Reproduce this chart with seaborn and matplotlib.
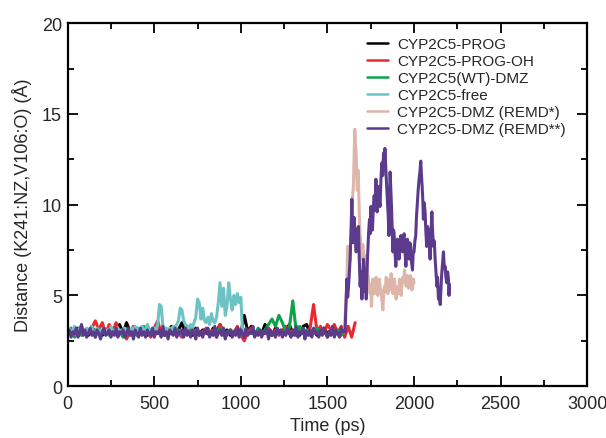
import numpy as np
import pandas as pd
import matplotlib
matplotlib.use('Agg')
import matplotlib.pyplot as plt
import seaborn as sns
from matplotlib.ticker import MultipleLocator

# series names and colours
names = ['CYP2C5-PROG', 'CYP2C5-PROG-OH', 'CYP2C5(WT)-DMZ', 'CYP2C5-free',
         'CYP2C5-DMZ (REMD*)', 'CYP2C5-DMZ (REMD**)']
colors = ['#000000', '#e8292e', '#0fa348', '#6cc3c6', '#ddb5a9', '#5c3b8d']

# plain MD runs, one sample every 20 ps
prog = [2.9, 3.1, 2.8, 3.2, 2.9, 3.0, 2.8, 3.3, 2.9, 3.1, 2.8, 3.0, 3.2, 2.9, 3.1, 3.4,
        2.9, 3.5, 3.0, 2.8, 3.2, 2.9, 3.1, 2.8, 3.0, 3.2, 2.9, 3.1, 2.8, 3.0, 3.3, 2.9,
        3.1, 3.5, 2.9, 3.0, 2.8, 3.2, 2.9, 3.1, 3.0, 2.8, 3.2, 3.0, 3.4, 2.9, 3.1, 2.8,
        3.0, 3.2, 2.9, 3.9, 3.0, 3.3, 2.8, 3.1, 2.9, 3.4, 3.0, 2.8, 3.2, 2.9, 3.1, 3.0,
        3.4, 2.9, 3.1, 2.8, 3.3, 3.4, 2.9, 3.1, 2.8, 3.0, 3.2, 2.9, 3.1, 2.8, 3.0, 3.2, 2.9]

prog_oh = [3.0, 3.2, 2.8, 3.1, 3.3, 2.9, 3.0, 3.2, 3.6, 3.1, 3.5, 2.9, 3.4, 3.0, 3.5, 2.9,
           3.1, 2.6, 3.0, 3.3, 2.8, 3.1, 2.9, 3.0, 2.7, 3.2, 3.6, 2.9, 3.0, 2.8, 3.1, 3.3,
           2.9, 2.7, 3.0, 3.2, 2.9, 3.1, 2.8, 3.0, 3.2, 2.9, 3.1, 2.7, 3.4, 3.0, 2.8, 3.1,
           2.9, 3.3, 2.8, 2.5, 3.0, 3.2, 2.9, 3.1, 2.8, 3.0, 3.2, 2.9, 3.1, 2.8, 3.0, 3.3,
           2.9, 3.1, 2.8, 3.2, 3.0, 2.9, 3.2, 4.5, 3.0, 3.3, 2.9, 3.4, 3.1, 3.4, 2.9, 3.3,
           2.7, 3.3, 2.7, 3.5]

wt_dmz = [2.9, 3.0, 2.7, 3.1, 2.8, 3.0, 2.9, 3.1, 2.7, 3.2, 2.9, 3.0, 2.8, 3.1, 2.9, 3.0,
          2.7, 3.1, 2.9, 3.2, 2.8, 3.0, 3.3, 2.9, 3.1, 2.8, 3.0, 2.9, 3.2, 2.8, 3.0, 2.9,
          3.1, 2.8, 3.0, 2.9, 3.1, 2.8, 3.0, 2.9, 3.1, 2.8, 3.0, 2.9, 3.2, 2.8, 3.0, 3.1,
          2.9, 3.0, 2.8, 3.1, 2.9, 3.0, 2.8, 3.2, 2.9, 3.1, 3.4, 3.7, 3.3, 3.9, 3.5, 3.0,
          3.2, 4.7, 3.0, 3.3, 2.9, 3.1, 2.8, 3.0, 3.2, 2.9, 3.1, 2.7, 3.0, 2.9, 3.1, 2.8, 3.0]

# free enzyme, one sample every 10 ps
free = [3.0, 3.2, 2.9, 3.1, 3.3, 3.0, 2.9, 3.2, 3.0, 3.1,
        2.9, 3.2, 3.0, 3.1, 3.3, 2.9, 3.0, 3.2, 2.9, 3.1,
        3.0, 3.2, 2.9, 3.1, 3.0, 3.3, 2.9, 3.1, 3.0, 3.2,
        2.9, 3.1, 3.0, 3.2, 3.1, 2.9, 3.0, 3.2, 3.1, 3.3,
        3.0, 3.2, 3.1, 3.3, 3.0, 3.1, 3.4, 3.2, 3.0, 3.1,
        3.2, 3.1, 3.4, 4.5, 4.4, 3.3, 3.1, 3.2, 3.0, 3.2,
        3.1, 3.3, 3.2, 3.4, 3.6, 4.3, 4.2, 3.6, 3.4, 3.3,
        3.2, 3.4, 3.2, 3.5, 3.8, 4.8, 4.6, 3.7, 4.3, 3.6,
        3.5, 3.8, 3.4, 4.0, 3.6, 3.5, 3.8, 4.6, 5.7, 4.4,
        5.4, 3.9, 4.4, 5.7, 4.8, 4.2, 5.0, 4.5, 5.1, 4.6,
        4.9, 3.0]

# REMD** : plain part sampled every 10 ps, then the excursion
remd2_base = [2.8, 3.1, 2.7, 3.0, 2.9, 3.2, 2.7, 3.0, 3.4, 2.8, 3.1, 2.7, 2.9, 3.2, 2.8, 3.0,
              2.7, 3.1, 2.9, 2.6, 3.0, 3.2, 2.8, 2.9, 3.1, 2.7, 3.0, 2.8, 3.2, 2.7, 3.0, 2.9,
              3.1, 2.7, 2.9, 3.2, 2.8, 3.0, 2.6, 3.1, 2.9, 2.7, 3.2, 2.8, 3.0, 2.7, 3.1, 2.9,
              2.8, 3.2, 2.7, 3.0, 2.9, 3.1, 2.7, 3.3, 2.8, 3.0, 2.6, 3.1, 2.9, 2.8, 3.2, 2.7,
              3.0, 2.9, 3.1, 2.7, 3.2, 2.8, 3.0, 2.7, 3.1, 2.9, 2.6, 3.2, 2.8, 3.0, 2.7, 3.1,
              2.9, 3.2, 2.7, 3.0, 2.8, 3.3, 2.7, 2.9, 3.1, 2.8, 3.2, 2.6, 3.0, 2.9, 3.1, 2.7,
              3.0, 2.8, 3.2, 2.7, 3.1, 2.9, 2.7, 3.2, 2.8, 3.0, 2.9, 3.3, 2.7, 3.0, 2.8, 3.1,
              2.7, 3.0, 2.9, 3.2, 2.6, 3.1, 2.8, 3.0, 2.7, 3.2, 2.9, 3.1, 2.7, 3.0, 2.8, 3.2,
              2.9, 2.7, 3.1, 2.8, 3.3, 2.7, 3.0, 2.9, 3.2, 2.6, 3.0, 2.8, 3.1, 2.7, 3.2, 2.9,
              3.0, 2.7, 3.1, 2.8, 3.2, 2.9, 2.7, 3.0, 2.8, 3.3, 2.7, 3.1, 2.9, 2.7, 3.2, 3.0]
remd2_t = [1602, 1607, 1612, 1617, 1622, 1627, 1631, 1636, 1641, 1644, 1646, 1650, 1652,
           1654, 1660, 1666, 1672, 1679, 1684, 1689, 1694, 1699, 1704, 1708, 1713, 1718,
           1721, 1724, 1728, 1733, 1738, 1743, 1747, 1751, 1756, 1760, 1765, 1770, 1775,
           1780, 1784, 1787, 1791, 1795, 1800, 1804, 1809, 1814, 1819, 1824, 1828, 1832,
           1836, 1839, 1843, 1847, 1851, 1855, 1858, 1862, 1866, 1870, 1874, 1878, 1882,
           1885, 1890, 1895, 1900, 1904, 1909, 1914, 1919, 1924, 1928, 1933, 1938, 1943,
           1948, 1953, 1958, 1962, 1967, 1972, 1976, 1981, 1986, 1991, 1995, 2000, 2005,
           2010, 2014, 2019, 2024, 2029, 2034, 2039, 2043, 2047, 2051, 2054, 2059, 2064,
           2068, 2073, 2078, 2083, 2088, 2093, 2098, 2103, 2107, 2112, 2117, 2122, 2127,
           2132, 2136, 2141, 2146, 2151, 2155, 2160, 2165, 2170, 2175, 2180, 2184, 2189,
           2194, 2199, 2202, 2205]
remd2_y = [3.0, 4.5, 5.9, 4.9, 5.5, 6.3, 7.0, 8.4, 10.3, 9.0, 8.4, 7.9, 9.0,
           9.3, 8.2, 7.4, 8.6, 8.8, 7.0, 5.5, 6.3, 4.8, 6.0, 7.0, 6.0, 5.2,
           6.2, 4.8, 6.3, 7.4, 8.5, 9.2, 8.4, 9.9, 9.0, 8.6, 9.8, 10.5, 9.7,
           11.4, 10.4, 9.6, 10.6, 11.0, 10.2, 9.9, 11.4, 12.3, 11.6, 12.85, 12.0, 13.1,
           12.2, 11.6, 10.8, 10.1, 9.4, 8.3, 10.0, 11.8, 10.8, 9.9, 8.6, 7.4, 8.6,
           8.4, 7.4, 6.6, 7.6, 8.1, 7.4, 7.0, 7.9, 8.3, 7.5, 7.4, 8.2, 8.4,
           7.4, 6.6, 7.6, 8.1, 7.3, 7.0, 7.9, 7.7, 6.8, 6.4, 7.3, 7.4, 8.0,
           8.3, 9.3, 10.1, 10.8, 11.4, 11.8, 12.4, 11.6, 11.0, 10.2, 9.2, 10.1, 9.6,
           8.6, 7.7, 8.8, 8.6, 7.8, 7.0, 8.4, 9.6, 8.6, 7.7, 8.0, 7.0, 6.2,
           5.5, 6.0, 4.8, 5.4, 4.5, 5.3, 6.2, 6.8, 7.4, 6.5, 6.6, 6.0, 5.7,
           6.3, 5.9, 5.0, 5.6]

# REMD* excursion
remd1_t = [1598, 1605, 1612, 1617, 1622, 1626, 1631, 1636, 1641, 1646, 1650, 1654, 1658,
           1662, 1666, 1670, 1673, 1676, 1679, 1684, 1689, 1694, 1699, 1704, 1708, 1713,
           1718, 1723, 1728, 1732, 1737, 1742, 1747, 1750, 1754, 1758, 1762, 1767, 1772,
           1776, 1781, 1786, 1791, 1796, 1801, 1805, 1810, 1815, 1820, 1824, 1829, 1834,
           1839, 1844, 1849, 1853, 1858, 1863, 1868, 1873, 1878, 1882, 1887, 1892, 1897,
           1901, 1906, 1911, 1916, 1921, 1926, 1930, 1935, 1940, 1945, 1950, 1955, 1960,
           1964, 1969, 1974, 1979, 1983, 1988, 1993, 1997, 2000]
remd1_y = [3.0, 4.4, 5.5, 7.7, 7.7, 6.8, 7.0, 8.4, 9.2, 10.5, 11.0, 12.6, 14.15,
           13.3, 12.85, 11.4, 10.8, 11.9, 11.4, 9.5, 8.3, 7.6, 7.0, 7.8, 7.4, 6.8,
           6.6, 7.2, 7.0, 6.3, 5.9, 5.4, 5.1, 5.6, 4.4, 5.2, 5.9, 5.4, 5.1,
           5.8, 6.0, 5.5, 5.0, 5.6, 5.9, 5.2, 5.3, 4.7, 4.2, 5.0, 5.5, 5.2,
           6.0, 5.6, 5.1, 5.5, 5.9, 5.3, 6.2, 5.6, 5.1, 5.4, 5.9, 5.2, 4.8,
           5.3, 5.5, 5.1, 5.9, 5.4, 5.0, 5.6, 6.0, 5.7, 6.4, 5.8, 5.5, 6.1,
           6.0, 5.4, 5.5, 6.1, 5.9, 5.3, 5.5, 5.9, 5.7]

rows = []
for name, vals, dt in zip(names[:4], [prog, prog_oh, wt_dmz, free], [20, 20, 20, 10]):
    for i, v in enumerate(vals):
        rows.append((name, i * dt, v))
for t, v in zip(remd1_t, remd1_y):
    rows.append((names[4], t, v))
for i, v in enumerate(remd2_base):
    rows.append((names[5], i * 10, v))
for t, v in zip(remd2_t, remd2_y):
    rows.append((names[5], t, v))
df = pd.DataFrame(rows, columns=['system', 'time', 'dist'])

sns.set_style('ticks')
plt.rcParams['font.family'] = ['Liberation Sans', 'DejaVu Sans']

fig = plt.figure(figsize=(6.06, 4.39), dpi=100)
ax = fig.add_axes([0.1116, 0.118, 0.969 - 0.1116, 0.945 - 0.118])

sns.lineplot(data=df, x='time', y='dist', hue='system', hue_order=names,
             palette=colors, estimator=None, sort=False, linewidth=2.2, ax=ax)

ax.set_xlim(0, 3000)
ax.set_ylim(0, 20)
ax.xaxis.set_major_locator(MultipleLocator(500))
ax.xaxis.set_minor_locator(MultipleLocator(250))
ax.yaxis.set_major_locator(MultipleLocator(5))
ax.yaxis.set_minor_locator(MultipleLocator(2.5))
ax.tick_params(which='both', direction='in', top=True, right=True, width=1.3,
               labelsize=13, color='black')
ax.tick_params(which='major', length=7.5, pad=6)
ax.tick_params(which='minor', length=4.5)
ax.tick_params(axis='y', pad=4)
for s in ax.spines.values():
    s.set_linewidth(1.6)
    s.set_color('black')

ax.set_xlabel('Time (ps)', fontsize=13, labelpad=4)
ax.set_ylabel('Distance (K241:NZ,V106:O) (Å)', fontsize=13, labelpad=7)

handles, labels = ax.get_legend_handles_labels()
leg = ax.legend(handles, labels, loc='upper left', bbox_to_anchor=(0.576, 0.962),
                frameon=False, fontsize=11, handlelength=1.35, handletextpad=0.65,
                labelspacing=0.2, borderpad=0, borderaxespad=0)
for line in leg.get_lines():
    line.set_linewidth(1.8)

fig.savefig('out.png', dpi=100)
